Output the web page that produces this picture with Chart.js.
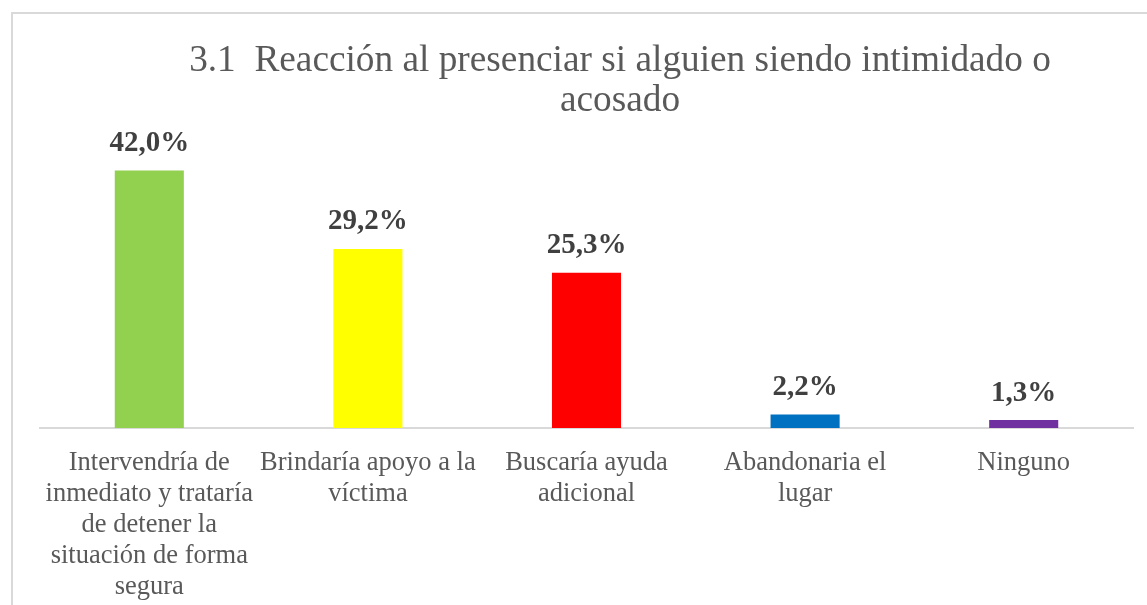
<!DOCTYPE html>
<html>
<head>
<meta charset="utf-8">
<script src="https://cdn.jsdelivr.net/npm/chart.js@4.4.1/dist/chart.umd.min.js"></script>
<style>
  body { margin:0; background:#fff; }
  #frame { position:absolute; left:11px; top:12px; width:1150px; height:600px; border:2px solid #d9d9d9; box-sizing:border-box; }
  #wrap { position:absolute; left:0; top:0; width:1147px; height:605px; }
</style>
</head>
<body>
<div id="frame"></div>
<div id="wrap"><canvas id="barChart" width="1147" height="605"></canvas></div>
<script>
const titleLines = ['3.1  Reacción al presenciar si alguien siendo intimidado o', 'acosado']
const categories = [
  ['Intervendría de', 'inmediato y trataría', 'de detener la', 'situación de forma', 'segura'],
  ['Brindaría apoyo a la', 'víctima'],
  ['Buscaría ayuda', 'adicional'],
  ['Abandonaria el', 'lugar'],
  ['Ninguno']
]
const percents = [42.0, 29.2, 25.3, 2.2, 1.3]
const barColors = ['#92D050', '#FFFF00', '#FF0000', '#0070C0', '#7030A0']

// title drawn by hand so it can sit off-centre like the original
const titlePlugin = {
  id: 'titleText',
  afterDraw(chart){
    const ctx = chart.ctx
    ctx.save()
    ctx.fillStyle = '#595959'
    ctx.font = '37.3px "Liberation Serif", "Times New Roman", serif'
    ctx.textAlign = 'center'
    ctx.textBaseline = 'middle'
    ctx.fillText(titleLines[0], 620, 61)
    ctx.fillText(titleLines[1], 620, 101)
    ctx.restore()
  }
}

const valueLabels = {
  id: 'valueLabels',
  afterDatasetsDraw(chart){
    const ctx = chart.ctx
    const meta = chart.getDatasetMeta(0)
    ctx.save()
    ctx.fillStyle = '#404040'
    ctx.font = 'bold 29px "Liberation Serif", "Times New Roman", serif'
    ctx.textAlign = 'center'
    ctx.textBaseline = 'middle'
    meta.data.forEach((bar, i)=>{
      ctx.fillText(percents[i].toFixed(1).replace('.', ',') + '%', bar.x, bar.y - 27)
    })
    ctx.restore()
  }
}

let barChart = new Chart(document.querySelector('#barChart'), {
  type: 'bar',
  data: {
    labels: categories,
    datasets: [{
      data: percents,
      backgroundColor: barColors,
      categoryPercentage: 1,
      barPercentage: 0.316
    }]
  },
  options: {
    responsive: false,
    animation: false,
    layout: { padding: { top: 152, left: 40, right: 14, bottom: 0 } },
    plugins: { legend: { display: false }, title: { display: false }, tooltip: { enabled: false } },
    scales: {
      x: {
        grid: { display: false, drawTicks: false },
        border: { display: true, color: '#d9d9d9', width: 2 },
        ticks: {
          color: '#595959',
          font: { family: '"Liberation Serif", "Times New Roman", serif', size: 26.5, lineHeight: 1.17 },
          padding: 20,
          maxRotation: 0,
          autoSkip: false
        },
        afterFit(scale){ scale.height = 177 }
      },
      y: {
        display: false,
        min: 0,
        max: 45
      }
    }
  },
  plugins: [titlePlugin, valueLabels]
})
</script>
</body>
</html>
